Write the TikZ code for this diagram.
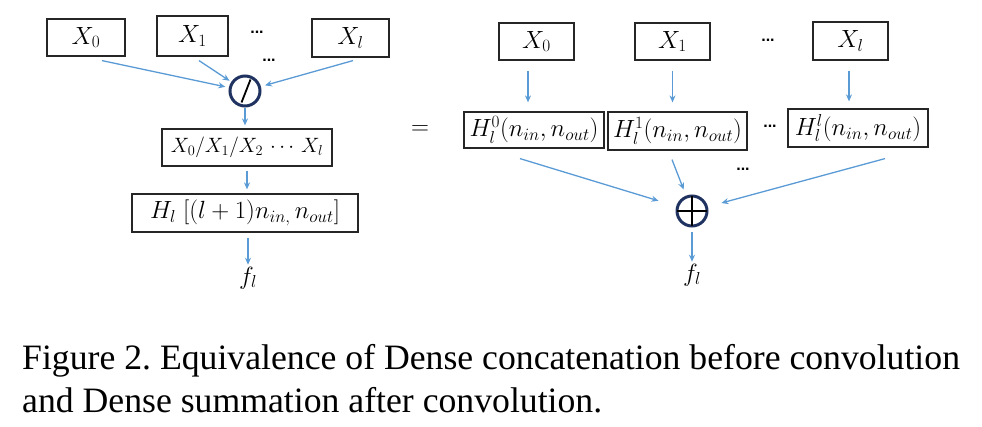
\documentclass[tikz,border=0pt]{standalone}
\usepackage{fontspec}
\setmainfont{Liberation Serif}
\newfontfamily\dotsfont{Liberation Sans}
\usetikzlibrary{arrows.meta,calc}
\definecolor{arrowblue}{RGB}{91,155,213}
\definecolor{navy}{RGB}{31,50,96}
\begin{document}
\begin{tikzpicture}[x=1pt,y=-1pt,
  box/.style={draw=black!85,line width=1.2pt,inner sep=0pt,font=\fontsize{25}{30}\selectfont},
  hbox/.style={draw=black!85,line width=1.2pt,inner sep=0pt,font=\fontsize{25}{30}\selectfont},
  opnode/.style={circle,draw=navy,line width=3pt,minimum size=30pt,inner sep=0pt},
  conn/.style={draw=arrowblue,line width=1.3pt,-{Stealth[length=7pt,width=6pt]}},
  dotsnode/.style={inner sep=0pt,font=\dotsfont\bfseries\fontsize{16}{18}\selectfont},
  captext/.style={anchor=base west,inner sep=0pt,font=\fontsize{35.7}{43}\selectfont}
]
\path[use as bounding box] (0,0) rectangle (982,427);

% ---------- left part ----------
\node[box,minimum width=78pt,minimum height=37pt] (lx0) at (86,37.5) {$X_0$};
\node[box,minimum width=71pt,minimum height=40pt] (lx1) at (192.5,36) {$X_1$};
\node[box,minimum width=77pt,minimum height=38pt] (lxl) at (350.5,38) {$X_l$};
\node[dotsnode] (ld1) at (257,32) {...};
\node[dotsnode] (ld2) at (269,60) {...};
\node[opnode] (lc) at (245,91) {};
\draw[black,line width=1.8pt] ($(lc)+(-3.5,11.5)$) -- ($(lc)+(5.5,-11.5)$);
\node[box,minimum width=170pt,minimum height=37pt,font=\fontsize{21}{25}\selectfont] (lcat) at (247,147.5) {$X_0/X_1/X_2\,\cdots\,X_l$};
\node[hbox,minimum width=226pt,minimum height=38pt,font=\fontsize{26}{30}\selectfont] (lh) at (245,213) {$H_l\;[(l+1)n_{in,}\,n_{out}]$};
\node[inner sep=0pt,font=\fontsize{24}{26}\selectfont] (lf) at (248,278) {$f_l$};

\draw[conn,shorten >=3.6pt] ($(lx0.south)+(16,4)$) -- (lc);
\draw[conn,shorten >=2pt] ($(lx1.south)+(6.5,4)$) -- (lc);
\draw[conn,shorten >=4.3pt] ($(lxl.south)+(2.5,3)$) -- (lc);
\draw[conn,shorten <=1pt,shorten >=3pt] (lc) -- (lc |- lcat.north);
\draw[conn,shorten <=4pt,shorten >=4pt] (lcat.south) -- (lcat.south |- lh.north);
\draw[conn,shorten <=5pt,shorten >=2pt] ([xshift=3pt]lh.south) -- ([xshift=3pt]lh.south |- lf.north);

% ---------- equals ----------
\node[inner sep=0pt,font=\fontsize{32}{34}\selectfont] (eq) at (420,130) {$=$};

% ---------- right part ----------
\node[box,minimum width=75pt,minimum height=37pt] (rx0) at (536.5,41.5) {$X_0$};
\node[box,minimum width=75pt,minimum height=37pt] (rx1) at (672.5,41.5) {$X_1$};
\node[box,minimum width=75pt,minimum height=38pt] (rxl) at (850.5,41) {$X_l$};
\node[dotsnode] (rd1) at (768,40) {...};
\node[hbox,minimum width=140pt,minimum height=36pt] (rh0) at (534,130) {$H_l^0(n_{in},n_{out})$};
\node[hbox,minimum width=139pt,minimum height=38pt] (rh1) at (677.5,131) {$H_l^1(n_{in},n_{out})$};
\node[hbox,minimum width=140pt,minimum height=38pt] (rhl) at (858,128) {$H_l^l(n_{in},n_{out})$};
\node[dotsnode] (rd2) at (770,126) {...};
\node[dotsnode] (rd3) at (743,169) {...};
\node[opnode] (rp) at (692,211) {};
\draw[black,line width=1.8pt] ($(rp)+(-15,0)$) -- ($(rp)+(15,0)$);
\draw[black,line width=1.8pt] ($(rp)+(0,-15)$) -- ($(rp)+(0,15)$);
\node[inner sep=0pt,font=\fontsize{24}{26}\selectfont] (rf) at (692,275) {$f_l$};

\draw[conn,shorten <=10pt,shorten >=9pt] ([xshift=-8.5pt]rx0.south) -- ([xshift=-8.5pt]rx0.south |- rh0.north);
\draw[conn,shorten <=10pt,shorten >=9pt] (rx1.south) -- (rx1.south |- rh1.north);
\draw[conn,shorten <=10pt,shorten >=7pt] ([xshift=-1.5pt]rxl.south) -- ([xshift=-1.5pt]rxl.south |- rhl.north);
\draw[conn,shorten >=18.5pt] ($(rh0.south)+(-14,10)$) -- (rp);
\draw[conn,shorten >=6.5pt] ($(rh1.south)+(-5.5,9)$) -- (rp);
\draw[conn,shorten >=14pt] ($(rhl.south)+(27,11)$) -- (rp);
\draw[conn,shorten <=5pt,shorten >=2pt] (rp) -- (rp |- rf.north);

% ---------- caption ----------
\node[captext] (cap1) at (22,369) {\frenchspacing Figure 2. Equivalence of Dense concatenation before convolution};
\node[captext] (cap2) at (22,412) {and Dense summation after convolution.};
\end{tikzpicture}
\end{document}
